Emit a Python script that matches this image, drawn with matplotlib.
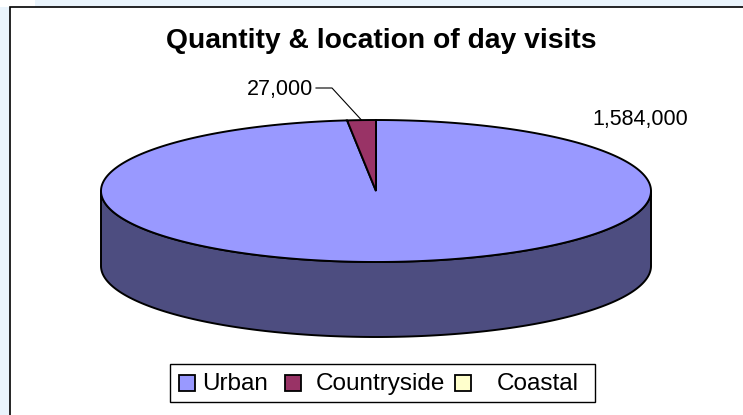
import numpy as np
import matplotlib
matplotlib.use("Agg")
import matplotlib.pyplot as plt
from matplotlib.patches import Polygon, Rectangle

# ---- data ----
categories = ["Urban", "Countryside", "Coastal"]
values = [1584000, 27000, 0]
value_labels = ["1,584,000", "27,000", ""]
title = "Quantity & location of day visits"

# ---- style ----
top_colors = ["#9999FF", "#993366", "#FFFFCC"]
side_colors = ["#4D4D80", "#4D1A33", "#808066"]
FONT = "Liberation Sans"

W, H = 743, 415
fig = plt.figure(figsize=(W / 100, H / 100), dpi=100)
fig.patch.set_facecolor("#EAF4FC")
ax = fig.add_axes([0, 0, 1, 1])
ax.set_xlim(0, W)
ax.set_ylim(H, 0)
ax.axis("off")

# white corner of slide background
ax.add_patch(Rectangle((0, 0), 35, 7, facecolor="white", edgecolor="none", zorder=0))
# chart area
ax.add_patch(Rectangle((10, 7), W + 20, H + 20, facecolor="white",
                       edgecolor="black", linewidth=1.2, zorder=0))

# pie geometry (layout)
cx, cy, rx, ry, depth = 376, 191, 275, 71, 75
lw = 1.4


def pt(theta_deg, dy=0.0):
    t = np.radians(theta_deg)
    return cx + rx * np.cos(t), cy - ry * np.sin(t) + dy


total = float(sum(values))
fracs = [v / total for v in values]
# slices go clockwise from 12 o'clock
starts, ends = [], []
a = 90.0
for f in fracs:
    starts.append(a)
    a -= 360.0 * f
    ends.append(a)

# side walls (front half visible)
for i, (s, e) in enumerate(zip(starts, ends)):
    if values[i] == 0:
        continue
    lo, hi = min(s, e), max(s, e)
    vlo, vhi = max(lo, -180.0), min(hi, 0.0)
    if vhi > vlo:
        th = np.linspace(vlo, vhi, 200)
        xs, ys = pt(th)
        xb, yb = pt(th[::-1], depth)
        poly = np.column_stack([np.r_[xs, xb], np.r_[ys, yb]])
        ax.add_patch(Polygon(poly, closed=True, facecolor=side_colors[i],
                             edgecolor="black", linewidth=lw, zorder=2,
                             joinstyle="round"))

# top wedges
for i, (s, e) in enumerate(zip(starts, ends)):
    if values[i] == 0:
        continue
    th = np.linspace(e, s, 400)
    xs, ys = pt(th)
    poly = np.column_stack([np.r_[cx, xs], np.r_[cy, ys]])
    ax.add_patch(Polygon(poly, closed=True, facecolor=top_colors[i],
                         edgecolor="black", linewidth=lw, zorder=3,
                         joinstyle="miter"))

# data labels
ax.text(640, 119, value_labels[0], ha="center", va="center",
        fontsize=15.5, family=FONT, color="black", zorder=5)
mid = (starts[1] + ends[1]) / 2
ex, ey = pt(mid)
ax.plot([316, 332, ex], [88, 88, ey], color="black", lw=0.8, zorder=4)
ax.text(313, 89, value_labels[1], ha="right", va="center",
        fontsize=15.5, family=FONT, color="black", zorder=5)

# title
ax.text(381, 41, title, ha="center", va="center", fontsize=20.3,
        fontweight="bold", family=FONT, color="black", zorder=5)

# legend
ax.add_patch(Rectangle((170, 364), 425, 38, facecolor="white",
                       edgecolor="black", linewidth=1.0, zorder=4))
marker_x = [179, 285, 455]
text_x = [202, 316, 497]
for i, c in enumerate(categories):
    ax.add_patch(Rectangle((marker_x[i], 375), 16, 16, facecolor=top_colors[i],
                           edgecolor="black", linewidth=1.3, zorder=5))
    ax.text(text_x[i], 384, c, ha="left", va="center", fontsize=17.5,
            family=FONT, color="black", zorder=5)

fig.savefig("out.png", dpi=100, facecolor=fig.get_facecolor())
